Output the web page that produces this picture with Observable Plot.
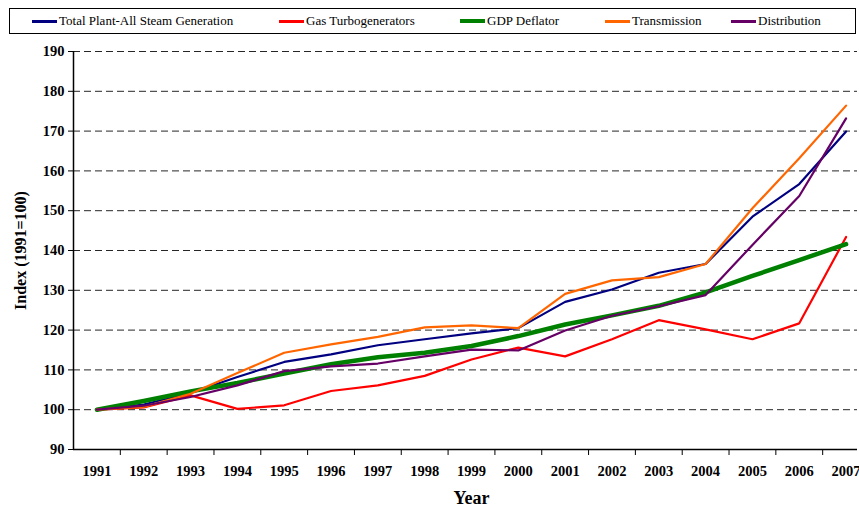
<!DOCTYPE html>
<html>
<head>
<meta charset="utf-8">
<script src="https://cdn.jsdelivr.net/npm/d3@7"></script>
<script src="https://cdn.jsdelivr.net/npm/@observablehq/plot@0.6"></script>
<style>
  body { margin: 0; background: #fff; font-family: 'Liberation Serif', serif; }
  #wrap { width: 859px; height: 508px; position: relative; }
  #legend { position: absolute; left: 9px; top: 8px; width: 847px; height: 26px; border: 1px solid #000; box-sizing: border-box; z-index: 2; background: #fff; }
  .item { position: absolute; top: 5px; font-size: 13px; color: #000; white-space: nowrap; line-height: 14px; font-family: 'Liberation Serif', serif; }
  .sw { display: inline-block; width: 25px; vertical-align: middle; margin-right: 2px; position: relative; top: -1px; }
  #chart { position: absolute; left: 0; top: 0; }
  #chart svg, #chart svg text { font-family: 'Liberation Serif', serif; }
</style>
</head>
<body>
<div id="wrap">
  <div id="chart"></div>
  <div id="legend"></div>
</div>
<script>
const years = [1991,1992,1993,1994,1995,1996,1997,1998,1999,2000,2001,2002,2003,2004,2005,2006,2007];
const seriesNames = ["Total Plant-All Steam Generation","Gas Turbogenerators","GDP Deflator","Transmission","Distribution"];
const seriesColors = ["#000080","#ff0000","#008000","#ff6600","#660066"];
const seriesWidths = [2.2, 2.2, 4.5, 2.2, 2.2];
const steam = [100,101.3,104.2,108.2,112,113.9,116.2,117.7,119.2,120.5,127.1,130.2,134.4,136.6,148.5,156.7,169.9];
const gas = [100,100.6,103.6,100.2,101.1,104.7,106.1,108.5,112.6,115.6,113.4,117.7,122.5,120.2,117.7,121.7,143.4];
const gdp = [100,102.2,104.6,106.7,109.1,111.4,113.2,114.3,116.0,118.5,121.4,123.7,126.1,129.5,133.6,137.6,141.6];
const transmission = [100,100.7,104.0,109.2,114.3,116.4,118.3,120.7,121.2,120.5,129.1,132.5,133.3,136.6,150.6,163.2,176.4];
const distribution = [100,101.0,103.2,106.1,109.7,110.9,111.6,113.4,115.1,114.9,119.9,123.6,126.0,128.8,141.4,153.7,173.2];
const yTicks = [90,100,110,120,130,140,150,160,170,180,190];
const gridValues = [100,110,120,130,140,150,160,170,180,190];
const bandEdges = [1991.5,1992.5,1993.5,1994.5,1995.5,1996.5,1997.5,1998.5,1999.5,2000.5,2001.5,2002.5,2003.5,2004.5,2005.5,2006.5];

const seriesValues = [steam, gas, gdp, transmission, distribution];

// legend
const legendLeft = [32, 279, 460, 605, 731];
const legend = document.getElementById("legend");
seriesNames.forEach((n, i) => {
  const it = document.createElement("div");
  it.className = "item";
  it.style.left = (legendLeft[i] - 10) + "px";
  it.innerHTML = `<span class="sw" style="border-top:${i===2?4:3}px solid ${seriesColors[i]}"></span>${n}`;
  legend.appendChild(it);
});

const FONT = "'Liberation Serif', serif";
const marks = [
  Plot.ruleY(gridValues, {stroke: "#000", strokeWidth: 1, strokeDasharray: "7,4", strokeOpacity: 0.85}),
  Plot.ruleY([90], {stroke: "#000", strokeWidth: 1.5}),
  Plot.ruleX([1990.5], {stroke: "#000", strokeWidth: 1.5}),
  Plot.axisY({ticks: yTicks, tickSize: 5, tickPadding: 4, label: null,
    fontSize: 14.5, fontWeight: "bold", fontFamily: FONT, fill: "#000"}),
  Plot.axisX({ticks: bandEdges, tickSize: 6, tickFormat: () => "", label: null}),
  Plot.text(years, {x: d => d, y: () => 90, dy: 22, text: d => String(d),
    fontSize: 14.5, fontWeight: "bold", fontFamily: FONT, fill: "#000"})
];
seriesValues.forEach((vals, i) => {
  marks.push(Plot.line(years.map((y, j) => ({year: y, value: vals[j]})), {
    x: "year", y: "value", stroke: seriesColors[i], strokeWidth: seriesWidths[i],
    strokeLinejoin: "round", strokeLinecap: "round"
  }));
});
marks.push(Plot.text(["Year"], {x: () => 1999.0, y: () => 90, dy: 49, text: d => d,
  fontSize: 18, fontWeight: "bold", fontFamily: FONT, fill: "#000"}));
marks.push(Plot.text(["Index (1991=100)"], {x: () => 1990.5, y: () => 140, dx: -53, rotate: -90, text: d => d,
  fontSize: 16, fontWeight: "bold", fontFamily: FONT, fill: "#000"}));

const chart = Plot.plot({
  width: 859,
  height: 508,
  marginLeft: 73,
  marginRight: 2,
  marginTop: 51,
  marginBottom: 59,
  x: {domain: [1990.5, 2007.5], range: [73, 869]},
  y: {domain: [90, 190], range: [449, 51]},
  style: {fontFamily: "'Liberation Serif', serif", background: "#fff", overflow: "visible"},
  marks
});
document.getElementById("chart").appendChild(chart);
</script>
</body>
</html>
